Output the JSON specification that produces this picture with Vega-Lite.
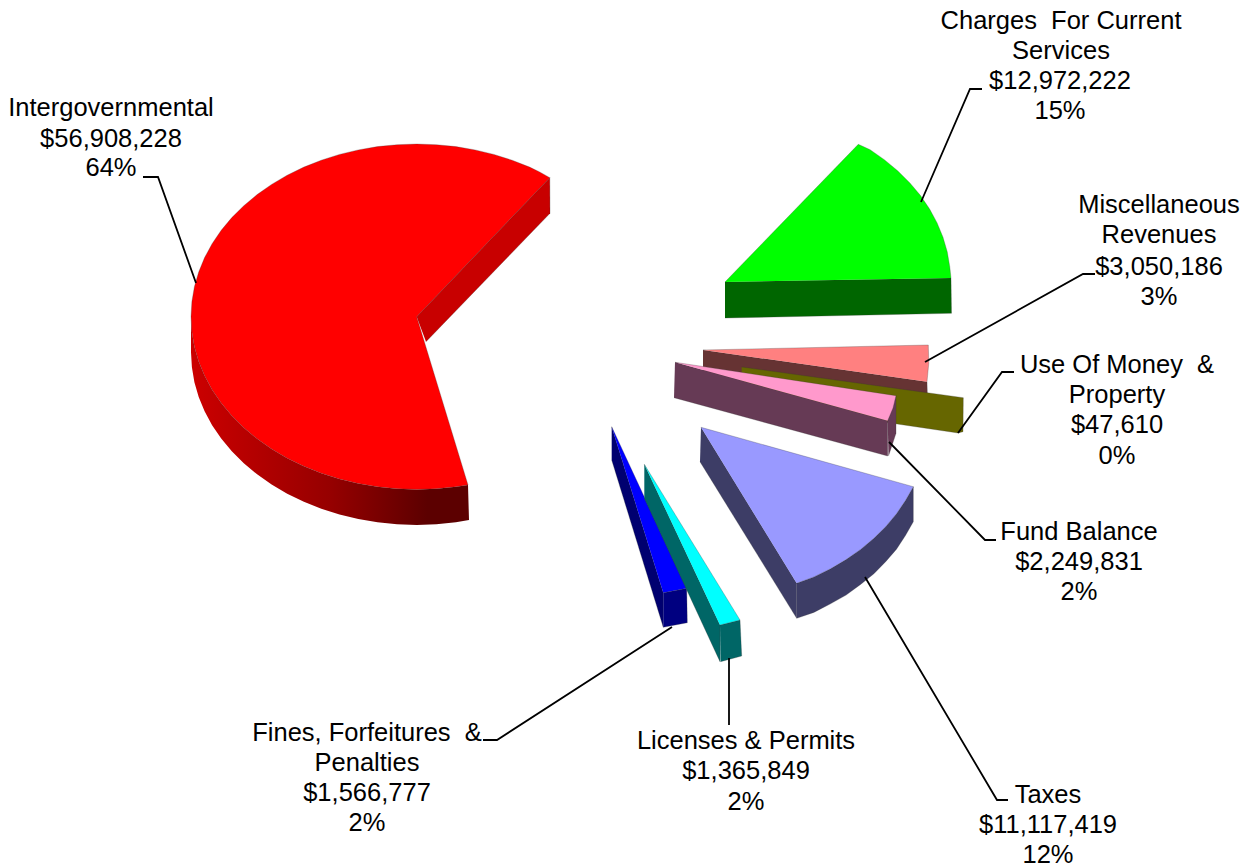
{"$schema":"https://vega.github.io/schema/vega-lite/v6.json","width":1254,"height":867,"padding":0,"autosize":{"type":"none"},"background":"white","config":{"view":{"stroke":null}},
"datasets":{
"redwall":[
{"i":0,"x":191,"y":316.7},{"i":0.5,"x":191.9,"y":331.8},{"i":1,"x":194.4,"y":346.7},{"i":1.5,"x":198.7,"y":361.4},{"i":2,"x":204.6,"y":375.8},{"i":2.5,"x":212.1,"y":389.7},{"i":3,"x":221.2,"y":403.1},{"i":3.5,"x":231.8,"y":415.8},{"i":4,"x":243.8,"y":427.7},{"i":4.5,"x":257.1,"y":438.8},{"i":5,"x":271.6,"y":449},{"i":5.5,"x":287.2,"y":458.2},{"i":6,"x":303.9,"y":466.3},{"i":6.5,"x":321.3,"y":473.2},{"i":7,"x":339.5,"y":479},{"i":7.5,"x":358.3,"y":483.5},{"i":8,"x":377.5,"y":486.8},{"i":8.5,"x":397,"y":488.7},{"i":9,"x":416.7,"y":489.4},{"i":9.5,"x":436.4,"y":488.7},{"i":10,"x":455.9,"y":486.8},{"i":11,"x":468,"y":484.9},{"i":12,"x":469,"y":520},{"i":13,"x":455.9,"y":522.3},{"i":13.5,"x":436.4,"y":524.2},{"i":14,"x":416.7,"y":524.9},{"i":14.5,"x":397,"y":524.2},{"i":15,"x":377.5,"y":522.3},{"i":15.5,"x":358.3,"y":519},{"i":16,"x":339.5,"y":514.5},{"i":16.5,"x":321.3,"y":508.7},{"i":17,"x":303.9,"y":501.8},{"i":17.5,"x":287.2,"y":493.7},{"i":18,"x":271.6,"y":484.5},{"i":18.5,"x":257.1,"y":474.3},{"i":19,"x":243.8,"y":463.2},{"i":19.5,"x":231.8,"y":451.3},{"i":20,"x":221.2,"y":438.6},{"i":20.5,"x":212.1,"y":425.2},{"i":21,"x":204.6,"y":411.3},{"i":21.5,"x":198.7,"y":396.9},{"i":22,"x":194.4,"y":382.2},{"i":22.5,"x":191.9,"y":367.3},{"i":23,"x":191,"y":352.2}],
"faces":[
{"part":"Intergovernmental cut","i":0,"x":416.7,"y":316.7},{"part":"Intergovernmental cut","i":1,"x":549.8,"y":177.7},{"part":"Intergovernmental cut","i":2,"x":550,"y":213.3},{"part":"Intergovernmental cut","i":3,"x":426,"y":341.7},
{"part":"Intergovernmental top","i":0,"x":416.7,"y":316.7},{"part":"Intergovernmental top","i":1,"x":549.8,"y":177.7},{"part":"Intergovernmental top","i":1.5,"x":539.6,"y":171.9},{"part":"Intergovernmental top","i":2,"x":529.6,"y":167.1},{"part":"Intergovernmental top","i":2.5,"x":512.1,"y":160.2},{"part":"Intergovernmental top","i":3,"x":493.9,"y":154.4},{"part":"Intergovernmental top","i":3.5,"x":475.1,"y":149.9},{"part":"Intergovernmental top","i":4,"x":455.9,"y":146.6},{"part":"Intergovernmental top","i":4.5,"x":436.4,"y":144.7},{"part":"Intergovernmental top","i":5,"x":416.7,"y":144},{"part":"Intergovernmental top","i":5.5,"x":397,"y":144.7},{"part":"Intergovernmental top","i":6,"x":377.5,"y":146.6},{"part":"Intergovernmental top","i":6.5,"x":358.3,"y":149.9},{"part":"Intergovernmental top","i":7,"x":339.5,"y":154.4},{"part":"Intergovernmental top","i":7.5,"x":321.3,"y":160.2},{"part":"Intergovernmental top","i":8,"x":303.9,"y":167.1},{"part":"Intergovernmental top","i":8.5,"x":287.2,"y":175.2},{"part":"Intergovernmental top","i":9,"x":271.6,"y":184.4},{"part":"Intergovernmental top","i":9.5,"x":257.1,"y":194.6},{"part":"Intergovernmental top","i":10,"x":243.8,"y":205.7},{"part":"Intergovernmental top","i":10.5,"x":231.8,"y":217.6},{"part":"Intergovernmental top","i":11,"x":221.2,"y":230.3},{"part":"Intergovernmental top","i":11.5,"x":212.1,"y":243.7},{"part":"Intergovernmental top","i":12,"x":204.6,"y":257.6},{"part":"Intergovernmental top","i":12.5,"x":198.7,"y":272},{"part":"Intergovernmental top","i":13,"x":194.4,"y":286.7},{"part":"Intergovernmental top","i":13.5,"x":191.9,"y":301.6},{"part":"Intergovernmental top","i":14,"x":191,"y":316.7},{"part":"Intergovernmental top","i":14.5,"x":191.9,"y":331.8},{"part":"Intergovernmental top","i":15,"x":194.4,"y":346.7},{"part":"Intergovernmental top","i":15.5,"x":198.7,"y":361.4},{"part":"Intergovernmental top","i":16,"x":204.6,"y":375.8},{"part":"Intergovernmental top","i":16.5,"x":212.1,"y":389.7},{"part":"Intergovernmental top","i":17,"x":221.2,"y":403.1},{"part":"Intergovernmental top","i":17.5,"x":231.8,"y":415.8},{"part":"Intergovernmental top","i":18,"x":243.8,"y":427.7},{"part":"Intergovernmental top","i":18.5,"x":257.1,"y":438.8},{"part":"Intergovernmental top","i":19,"x":271.6,"y":449},{"part":"Intergovernmental top","i":19.5,"x":287.2,"y":458.2},{"part":"Intergovernmental top","i":20,"x":303.9,"y":466.3},{"part":"Intergovernmental top","i":20.5,"x":321.3,"y":473.2},{"part":"Intergovernmental top","i":21,"x":339.5,"y":479},{"part":"Intergovernmental top","i":21.5,"x":358.3,"y":483.5},{"part":"Intergovernmental top","i":22,"x":377.5,"y":486.8},{"part":"Intergovernmental top","i":22.5,"x":397,"y":488.7},{"part":"Intergovernmental top","i":23,"x":416.7,"y":489.4},{"part":"Intergovernmental top","i":23.5,"x":436.4,"y":488.7},{"part":"Intergovernmental top","i":24,"x":455.9,"y":486.8},{"part":"Intergovernmental top","i":25,"x":468,"y":484.9},{"part":"Intergovernmental top","i":26,"x":416.7,"y":316.7},
{"part":"Charges wall","i":0,"x":725,"y":282},{"part":"Charges wall","i":1,"x":951,"y":278},{"part":"Charges wall","i":2,"x":951.5,"y":313.3},{"part":"Charges wall","i":3,"x":725,"y":318},
{"part":"Charges top","i":0,"x":725,"y":282},{"part":"Charges top","i":1,"x":858.3,"y":144.3},{"part":"Charges top","i":2,"x":870.1,"y":149.7},{"part":"Charges top","i":2.5,"x":884.6,"y":159.9},{"part":"Charges top","i":3,"x":897.9,"y":171},{"part":"Charges top","i":3.5,"x":909.9,"y":182.9},{"part":"Charges top","i":4,"x":920.5,"y":195.6},{"part":"Charges top","i":4.5,"x":929.6,"y":209},{"part":"Charges top","i":5,"x":937.1,"y":222.9},{"part":"Charges top","i":5.5,"x":943,"y":237.3},{"part":"Charges top","i":6,"x":947.3,"y":252},{"part":"Charges top","i":6.5,"x":949.8,"y":266.9},{"part":"Charges top","i":7,"x":951,"y":278},
{"part":"Miscellaneous wall","i":0,"x":703,"y":350},{"part":"Miscellaneous wall","i":1,"x":927,"y":381.7},{"part":"Miscellaneous wall","i":2,"x":928,"y":417},{"part":"Miscellaneous wall","i":3,"x":703,"y":385},
{"part":"Miscellaneous top","i":0,"x":703,"y":350},{"part":"Miscellaneous top","i":1,"x":928.3,"y":345},{"part":"Miscellaneous top","i":2,"x":928.8,"y":363},{"part":"Miscellaneous top","i":3,"x":927,"y":381.7},
{"part":"Use Of Money wall","i":0,"x":741.7,"y":367},{"part":"Use Of Money wall","i":1,"x":963.3,"y":397.7},{"part":"Use Of Money wall","i":2,"x":963,"y":431.7},{"part":"Use Of Money wall","i":3,"x":958,"y":433},{"part":"Use Of Money wall","i":4,"x":741.7,"y":401},
{"part":"Fund Balance wall","i":0,"x":675,"y":362.3},{"part":"Fund Balance wall","i":1,"x":887.7,"y":420.7},{"part":"Fund Balance wall","i":2,"x":887.7,"y":456},{"part":"Fund Balance wall","i":3,"x":674,"y":397.7},
{"part":"Fund Balance end","i":0,"x":887.7,"y":420.7},{"part":"Fund Balance end","i":1,"x":896,"y":395.7},{"part":"Fund Balance end","i":2,"x":896,"y":433.3},{"part":"Fund Balance end","i":3,"x":888.5,"y":456},
{"part":"Fund Balance top","i":0,"x":675,"y":362.3},{"part":"Fund Balance top","i":1,"x":896,"y":395.7},{"part":"Fund Balance top","i":2,"x":893,"y":408},{"part":"Fund Balance top","i":3,"x":887.7,"y":420.7},
{"part":"Taxes left","i":0,"x":701,"y":427.3},{"part":"Taxes left","i":1,"x":796.7,"y":583.3},{"part":"Taxes left","i":2,"x":796.7,"y":618.3},{"part":"Taxes left","i":3,"x":700,"y":461.7},
{"part":"Taxes front","i":0,"x":796.7,"y":583.3},{"part":"Taxes front","i":1,"x":813.9,"y":576.9},{"part":"Taxes front","i":1.5,"x":830.5,"y":568.8},{"part":"Taxes front","i":2,"x":846.1,"y":559.6},{"part":"Taxes front","i":2.5,"x":860.6,"y":549.4},{"part":"Taxes front","i":3,"x":873.9,"y":538.3},{"part":"Taxes front","i":3.5,"x":885.9,"y":526.4},{"part":"Taxes front","i":4,"x":896.5,"y":513.7},{"part":"Taxes front","i":4.5,"x":905.6,"y":500.3},{"part":"Taxes front","i":5,"x":913.3,"y":486.7},{"part":"Taxes front","i":6,"x":913.3,"y":521.7},{"part":"Taxes front","i":6.5,"x":905.6,"y":535.3},{"part":"Taxes front","i":7,"x":896.5,"y":549.2},{"part":"Taxes front","i":7.5,"x":885.9,"y":561.4},{"part":"Taxes front","i":8,"x":873.9,"y":573.8},{"part":"Taxes front","i":8.5,"x":860.6,"y":584.4},{"part":"Taxes front","i":9,"x":846.1,"y":595.1},{"part":"Taxes front","i":9.5,"x":830.5,"y":603.8},{"part":"Taxes front","i":10,"x":813.9,"y":612.4},{"part":"Taxes front","i":11,"x":796.7,"y":618.3},
{"part":"Taxes top","i":0,"x":701,"y":427.3},{"part":"Taxes top","i":1,"x":913.3,"y":486.7},{"part":"Taxes top","i":1.5,"x":905.6,"y":500.3},{"part":"Taxes top","i":2,"x":896.5,"y":513.7},{"part":"Taxes top","i":2.5,"x":885.9,"y":526.4},{"part":"Taxes top","i":3,"x":873.9,"y":538.3},{"part":"Taxes top","i":3.5,"x":860.6,"y":549.4},{"part":"Taxes top","i":4,"x":846.1,"y":559.6},{"part":"Taxes top","i":4.5,"x":830.5,"y":568.8},{"part":"Taxes top","i":5,"x":813.9,"y":576.9},{"part":"Taxes top","i":6,"x":796.7,"y":583.3},
{"part":"Fines left","i":0,"x":611.7,"y":426.7},{"part":"Fines left","i":1,"x":663.3,"y":592.7},{"part":"Fines left","i":2,"x":663.3,"y":627.3},{"part":"Fines left","i":3,"x":611.7,"y":460},
{"part":"Fines end","i":0,"x":663.3,"y":592.7},{"part":"Fines end","i":1,"x":686.7,"y":588.3},{"part":"Fines end","i":2,"x":687.3,"y":622.7},{"part":"Fines end","i":3,"x":663.3,"y":627.3},
{"part":"Fines top","i":0,"x":611.7,"y":426.7},{"part":"Fines top","i":1,"x":686.7,"y":588.3},{"part":"Fines top","i":2,"x":663.3,"y":592.7},
{"part":"Licenses left","i":0,"x":644.3,"y":464.3},{"part":"Licenses left","i":1,"x":720,"y":625},{"part":"Licenses left","i":2,"x":720,"y":661.7},{"part":"Licenses left","i":3,"x":644.3,"y":498.3},
{"part":"Licenses end","i":0,"x":720,"y":625},{"part":"Licenses end","i":1,"x":740,"y":620},{"part":"Licenses end","i":2,"x":741.7,"y":656},{"part":"Licenses end","i":3,"x":720.5,"y":661.7},
{"part":"Licenses top","i":0,"x":644.3,"y":464.3},{"part":"Licenses top","i":1,"x":740,"y":620},{"part":"Licenses top","i":2,"x":720,"y":625}],
"leaders":[
{"name":"Intergovernmental","i":0,"x":143,"y":177},{"name":"Intergovernmental","i":1,"x":158,"y":177},{"name":"Intergovernmental","i":2,"x":196,"y":283},
{"name":"Charges","i":0,"x":921,"y":202},{"name":"Charges","i":1,"x":970,"y":89},{"name":"Charges","i":2,"x":982,"y":89},
{"name":"Miscellaneous","i":0,"x":925,"y":362},{"name":"Miscellaneous","i":1,"x":1083,"y":274},{"name":"Miscellaneous","i":2,"x":1095,"y":274},
{"name":"Use Of Money","i":0,"x":958,"y":433},{"name":"Use Of Money","i":1,"x":1002,"y":372},{"name":"Use Of Money","i":2,"x":1014,"y":372},
{"name":"Fund Balance","i":0,"x":889,"y":442},{"name":"Fund Balance","i":1,"x":985,"y":540},{"name":"Fund Balance","i":2,"x":996,"y":540},
{"name":"Taxes","i":0,"x":865,"y":577},{"name":"Taxes","i":1,"x":997,"y":800},{"name":"Taxes","i":2,"x":1008,"y":800},
{"name":"Licenses","i":0,"x":729,"y":658},{"name":"Licenses","i":1,"x":729,"y":725},
{"name":"Fines","i":0,"x":672,"y":627},{"name":"Fines","i":1,"x":497,"y":740},{"name":"Fines","i":2,"x":483,"y":740}],
"labels":[
{"x":1061,"y":20,"text":"Charges\u00a0 For Current"},{"x":1061,"y":50,"text":"Services"},{"x":1060,"y":80,"text":"$12,972,222"},{"x":1060,"y":110,"text":"15%"},
{"x":1159,"y":204,"text":"Miscellaneous"},{"x":1159,"y":234,"text":"Revenues"},{"x":1159,"y":266,"text":"$3,050,186"},{"x":1159,"y":296,"text":"3%"},
{"x":1117,"y":364,"text":"Use Of Money\u00a0 &"},{"x":1117,"y":394,"text":"Property"},{"x":1117,"y":424,"text":"$47,610"},{"x":1117,"y":455,"text":"0%"},
{"x":1079,"y":531,"text":"Fund Balance"},{"x":1079,"y":561,"text":"$2,249,831"},{"x":1079,"y":591,"text":"2%"},
{"x":1048,"y":794,"text":"Taxes"},{"x":1048,"y":824,"text":"$11,117,419"},{"x":1048,"y":854,"text":"12%"},
{"x":746,"y":740,"text":"Licenses & Permits"},{"x":746,"y":770,"text":"$1,365,849"},{"x":746,"y":801,"text":"2%"},
{"x":367,"y":732,"text":"Fines, Forfeitures\u00a0 &"},{"x":367,"y":762,"text":"Penalties"},{"x":367,"y":792,"text":"$1,566,777"},{"x":367,"y":822,"text":"2%"},
{"x":111,"y":107,"text":"Intergovernmental"},{"x":111,"y":138,"text":"$56,908,228"},{"x":111,"y":167,"text":"64%"}]
},
"layer":[
{"data":{"name":"redwall"},"mark":{"type":"line","strokeWidth":0,"fill":{"gradient":"linear","x1":0,"y1":0,"x2":1,"y2":0,"stops":[{"offset":0,"color":"#cc0000"},{"offset":0.5,"color":"#960000"},{"offset":0.85,"color":"#5c0000"},{"offset":1,"color":"#5c0000"}]}},
"encoding":{"x":{"field":"x","type":"quantitative","scale":{"domain":[0,1254]},"axis":null},"y":{"field":"y","type":"quantitative","scale":{"domain":[867,0]},"axis":null},"order":{"field":"i"}}},
{"data":{"name":"faces"},"mark":{"type":"line","filled":true,"stroke":"#333333","strokeWidth":0.6,"strokeOpacity":0.45},
"encoding":{"x":{"field":"x","type":"quantitative","scale":{"domain":[0,1254]},"axis":null},"y":{"field":"y","type":"quantitative","scale":{"domain":[867,0]},"axis":null},"order":{"field":"i"},
"color":{"field":"part","type":"nominal","legend":null,"scale":{"domain":["Intergovernmental cut","Intergovernmental top","Charges wall","Charges top","Miscellaneous wall","Miscellaneous top","Use Of Money wall","Fund Balance wall","Fund Balance end","Fund Balance top","Taxes left","Taxes front","Taxes top","Fines left","Fines end","Fines top","Licenses left","Licenses end","Licenses top"],"range":["#c80000","#ff0000","#006600","#00ff00","#663333","#ff8080","#666600","#663a55","#663a55","#ff99cc","#3d3d66","#3d3d66","#9999ff","#000070","#000080","#0000ff","#006666","#006666","#00ffff"]}}}},
{"data":{"name":"leaders"},"mark":{"type":"line","color":"black","strokeWidth":1.8},
"encoding":{"x":{"field":"x","type":"quantitative","scale":{"domain":[0,1254]},"axis":null},"y":{"field":"y","type":"quantitative","scale":{"domain":[867,0]},"axis":null},"order":{"field":"i"},"detail":{"field":"name"}}},
{"data":{"name":"labels"},"mark":{"type":"text","font":"Liberation Sans","fontSize":25.5,"align":"center","baseline":"middle","dy":0.5,"color":"black"},
"encoding":{"x":{"field":"x","type":"quantitative","scale":{"domain":[0,1254]},"axis":null},"y":{"field":"y","type":"quantitative","scale":{"domain":[867,0]},"axis":null},"text":{"field":"text"}}}
]}
